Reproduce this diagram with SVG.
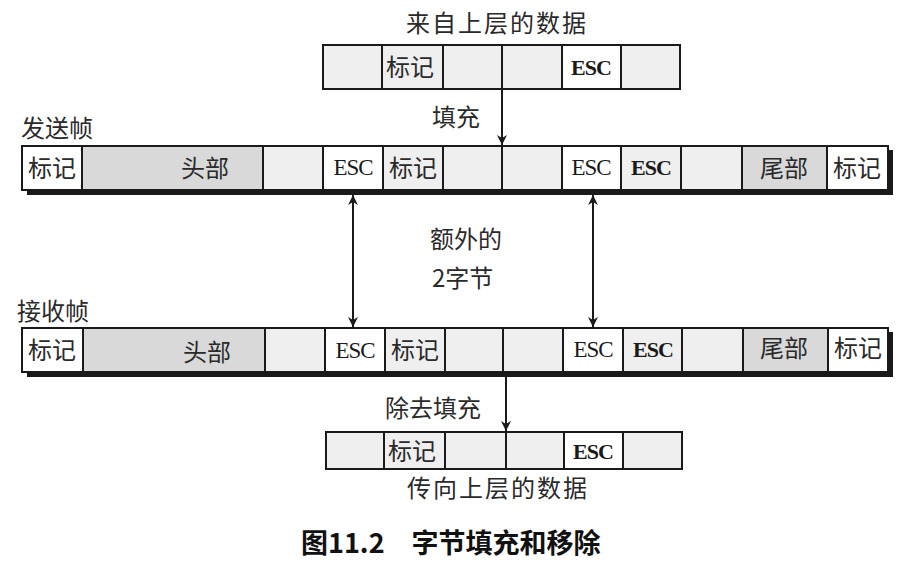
<svg xmlns="http://www.w3.org/2000/svg" width="907" height="565" viewBox="0 0 907 565">
<defs>
<style>
.cell{stroke:#1a1a1a;stroke-width:2}
.w{fill:#ffffff}
.l{fill:#efefef}
.g{fill:#d9d9d9}
.t{font-family:"Noto Sans CJK SC","Noto Sans",sans-serif;font-size:24px;fill:#2a2a2a;text-anchor:middle}
.lab{font-family:"Noto Sans CJK SC","Noto Sans",sans-serif;font-size:24px;fill:#2a2a2a}
.esc{font-family:"Liberation Serif",serif;font-size:23px;fill:#1a1a1a;text-anchor:middle;letter-spacing:-1px}
.escb{font-weight:bold;font-size:22px}
.sh{fill:#1a1a1a}
.conn{stroke:#1a1a1a;stroke-width:2;fill:none}
.cap{font-family:"Noto Sans CJK SC",serif;font-size:27px;font-weight:bold;fill:#111}
</style>
<marker id="ah2" viewBox="0 0 10 10" refX="10" refY="5" markerWidth="16" markerHeight="10" markerUnits="userSpaceOnUse" orient="auto-start-reverse">
<path d="M0,0 L10,5 L0,10 L3,5 Z" fill="#1a1a1a"/>
</marker>
</defs>
<rect width="907" height="565" fill="#ffffff"/>

<g id="labels">
<text class="lab" x="406" y="32" letter-spacing="2">来自上层的数据</text>
<text class="lab" x="432" y="126">填充</text>
<text class="lab" x="21" y="137">发送帧</text>
<text class="lab" x="430" y="248">额外的</text>
<text class="lab" x="432" y="287">2字节</text>
<text class="lab" x="17" y="320">接收帧</text>
<text class="lab" x="385" y="417">除去填充</text>
<text class="lab" x="407" y="497" letter-spacing="2">传向上层的数据</text>
<text class="cap" x="301" y="553">图11.2　字节填充和移除</text>
</g>

<g id="top-data">
<rect class="cell l" x="323" y="45" width="59" height="44"/>
<rect class="cell l" x="382" y="45" width="61" height="44"/>
<rect class="cell l" x="443" y="45" width="59" height="44"/>
<rect class="cell l" x="502" y="45" width="60" height="44"/>
<rect class="cell w" x="562" y="45" width="59" height="44"/>
<rect class="cell l" x="621" y="45" width="59" height="44"/>
<text class="t" x="410" y="76">标记</text>
<text class="esc escb" x="591" y="75">ESC</text>
</g>

<g id="send-frame">
<rect class="sh" x="27" y="150" width="866" height="45"/>
<rect class="cell w" x="22" y="146" width="60" height="44"/>
<rect class="cell g" x="82" y="146" width="181" height="44"/>
<rect class="cell l" x="263" y="146" width="60" height="44"/>
<rect class="cell w" x="323" y="146" width="60" height="44"/>
<rect class="cell l" x="383" y="146" width="60" height="44"/>
<rect class="cell l" x="443" y="146" width="59" height="44"/>
<rect class="cell l" x="502" y="146" width="60" height="44"/>
<rect class="cell w" x="562" y="146" width="59" height="44"/>
<rect class="cell l" x="621" y="146" width="60" height="44"/>
<rect class="cell l" x="681" y="146" width="61" height="44"/>
<rect class="cell g" x="742" y="146" width="85" height="44"/>
<rect class="cell w" x="827" y="146" width="61" height="44"/>
<text class="t" x="52" y="177">标记</text>
<text class="t" x="205" y="177">头部</text>
<text class="esc" x="353" y="175">ESC</text>
<text class="t" x="413" y="177">标记</text>
<text class="esc" x="591" y="175">ESC</text>
<text class="esc escb" x="651" y="175">ESC</text>
<text class="t" x="784" y="177">尾部</text>
<text class="t" x="857" y="177">标记</text>
</g>

<g id="recv-frame">
<rect class="sh" x="27" y="332" width="866" height="45"/>
<rect class="cell w" x="22" y="328" width="61" height="44"/>
<rect class="cell g" x="83" y="328" width="182" height="44"/>
<rect class="cell l" x="265" y="328" width="60" height="44"/>
<rect class="cell w" x="325" y="328" width="60" height="44"/>
<rect class="cell l" x="385" y="328" width="60" height="44"/>
<rect class="cell l" x="445" y="328" width="58" height="44"/>
<rect class="cell l" x="503" y="328" width="60" height="44"/>
<rect class="cell w" x="563" y="328" width="60" height="44"/>
<rect class="cell l" x="623" y="328" width="59" height="44"/>
<rect class="cell l" x="682" y="328" width="61" height="44"/>
<rect class="cell g" x="743" y="328" width="85" height="44"/>
<rect class="cell w" x="828" y="328" width="60" height="44"/>
<text class="t" x="52" y="359">标记</text>
<text class="t" x="207" y="361">头部</text>
<text class="esc" x="355" y="358">ESC</text>
<text class="t" x="415" y="359">标记</text>
<text class="esc" x="593" y="357">ESC</text>
<text class="esc escb" x="653" y="357">ESC</text>
<text class="t" x="784" y="357">尾部</text>
<text class="t" x="858" y="357">标记</text>
</g>

<g id="bottom-data">
<rect class="cell l" x="326" y="432" width="58" height="37"/>
<rect class="cell l" x="384" y="432" width="61" height="37"/>
<rect class="cell l" x="445" y="432" width="61" height="37"/>
<rect class="cell l" x="506" y="432" width="58" height="37"/>
<rect class="cell w" x="564" y="432" width="59" height="37"/>
<rect class="cell l" x="623" y="432" width="59" height="37"/>
<text class="t" x="412" y="460">标记</text>
<text class="esc escb" x="593" y="459">ESC</text>
</g>

<g id="connectors">
<line class="conn" x1="502" y1="89" x2="502" y2="145" marker-end="url(#ah2)"/>
<line class="conn" x1="353" y1="195" x2="353" y2="327" marker-start="url(#ah2)" marker-end="url(#ah2)"/>
<line class="conn" x1="593" y1="195" x2="593" y2="327" marker-start="url(#ah2)" marker-end="url(#ah2)"/>
<line class="conn" x1="506" y1="377" x2="506" y2="431" marker-end="url(#ah2)"/>
</g>
</svg>
